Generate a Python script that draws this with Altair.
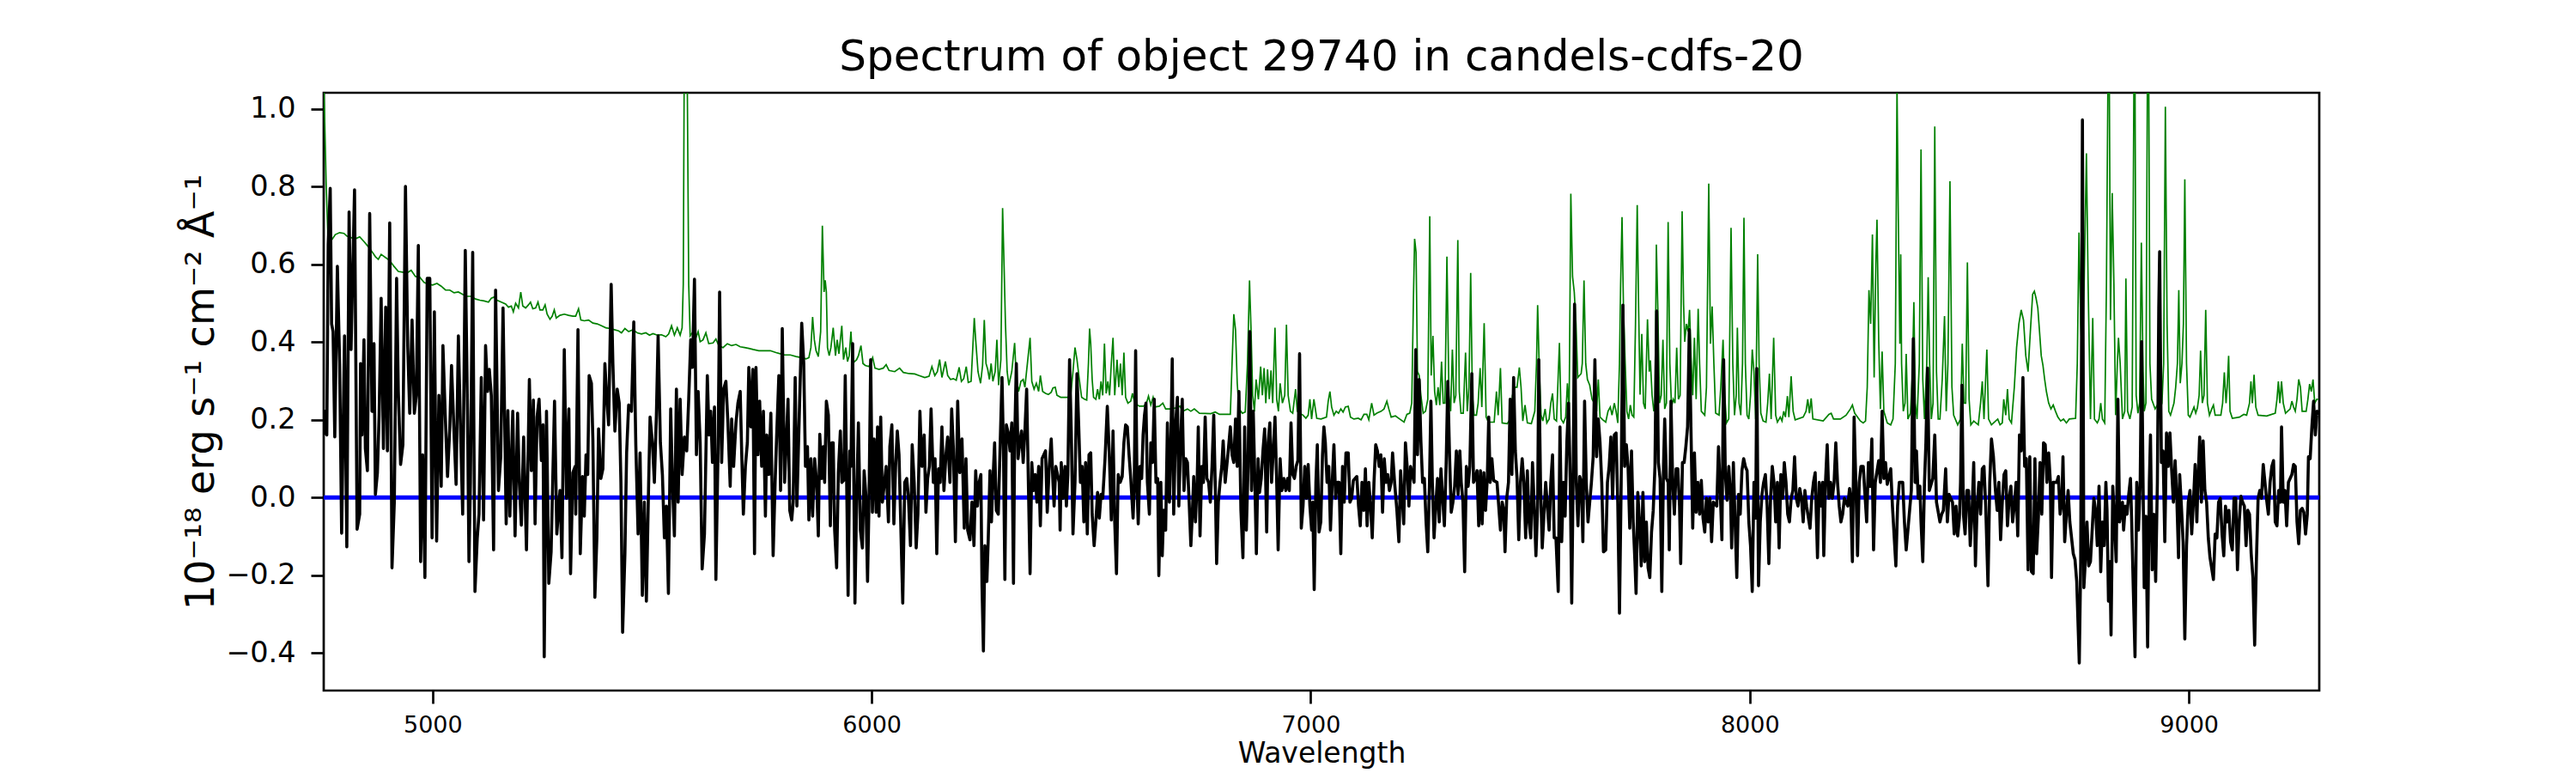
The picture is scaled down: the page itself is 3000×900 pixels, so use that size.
import altair as alt
import pandas as pd

TITLE = "Spectrum of object 29740 in candels-cdfs-20"
X_TITLE = "Wavelength"
Y_TITLE = "10⁻¹⁸ erg s⁻¹ cm⁻² Å⁻¹"
X_TICKS = [5000, 6000, 7000, 8000, 9000]
Y_TICKS = [-0.4, -0.2, 0.0, 0.2, 0.4, 0.6, 0.8, 1.0]
X_DOMAIN = [4752, 9297]
Y_DOMAIN = [-0.497, 1.042]
TOP = 1.06  # peaks that run off the top of the axes

# object flux (black), (wavelength, value)
flux_seg1 = [(4752.4,0.161),(4755.7,0.222),(4759.0,0.161),(4762.2,0.651),(4766.8,0.796),(4770.0,0.447),(4773.3,0.427),(4777.2,0.156),(4783.1,0.595),(4788.3,0.345),(4792.8,-0.092),(4799.4,0.416),(4804.6,-0.127),(4809.8,0.735),(4814.3,0.381),(4822.2,0.792),(4828.0,-0.082),(4833.9,-0.043),(4835.9,0.345),(4839.1,0.161),(4843.7,0.406),(4846.9,0.126),(4851.5,0.069),(4856.7,0.731),(4861.9,0.222),(4866.5,0.396),(4869.7,0.008),(4874.3,0.064),(4878.2,0.212),(4882.8,0.513),(4888.0,0.126),(4893.2,0.490),(4897.1,0.120),(4902.3,0.707),(4907.5,-0.181),(4912.8,-0.012),(4918.0,0.564),(4921.9,0.273),(4927.1,0.085),(4932.3,0.136),(4938.2,0.801),(4943.4,0.386),(4947.9,0.217),(4953.2,0.457),(4958.4,0.217),(4962.9,0.263),(4967.5,0.649),(4972.7,-0.165),(4977.3,0.110),(4982.5,-0.206),(4987.7,0.564),(4993.6,0.564),(4998.8,-0.104),(5004.0,0.478),(5009.2,-0.112),(5014.4,0.263),(5019.6,0.029),(5023.5,0.391),(5028.8,0.212),(5034.0,0.054),(5039.2,0.182),(5043.1,0.340),(5048.3,0.182),(5053.5,0.034),(5058.7,0.416),(5063.9,0.161),(5068.5,-0.043),(5074.4,0.636),(5079.6,0.212),(5082.8,-0.165),(5086.1,0.039),(5091.3,0.631),(5096.5,-0.242),(5101.7,-0.104),(5105.7,-0.043),(5110.9,0.309),(5116.1,-0.058),(5120.6,0.391),(5125.2,0.273),(5129.1,0.330),(5133.7,0.263),(5138.9,-0.135),(5143.5,0.534),(5150.0,0.018),(5155.2,0.105),(5160.4,0.488),(5167.6,-0.068),(5171.5,0.224),(5176.0,-0.048),(5182.6,0.222),(5187.8,-0.099),(5193.6,0.217),(5197.5,0.039),(5202.1,-0.071),(5207.3,0.156),(5213.8,-0.135),(5220.4,0.304),(5224.9,0.069),(5229.5,0.251),(5233.4,-0.068),(5237.9,0.207),(5242.5,0.253),(5247.7,0.095),(5251.6,0.187),(5254.2,-0.410),(5259.4,0.222),(5264.7,-0.221),(5269.9,-0.140),(5277.7,0.248),(5282.9,-0.094),(5290.1,0.018),(5294.6,-0.155),(5299.9,0.381),(5305.1,-0.002),(5310.3,0.228),(5314.2,-0.196),(5319.4,0.064),(5324.6,0.080)]
flux_seg2 = [(5325.9,-0.043),(5331.1,0.432),(5336.3,-0.145),(5341.5,0.054),(5345.5,-0.048),(5349.4,0.110),(5353.3,0.059),(5356.5,0.314),(5361.7,0.294),(5365.0,0.151),(5369.6,-0.257),(5374.1,-0.104),(5378.0,0.177),(5383.2,0.049),(5387.8,0.074),(5392.4,0.345),(5396.3,0.263),(5400.8,0.187),(5406.7,0.549),(5410.6,0.345),(5415.2,0.171),(5420.4,0.279),(5425.0,0.243),(5428.9,0.039),(5432.8,-0.347),(5438.0,-0.145),(5441.9,0.115),(5446.5,0.238),(5453.0,0.222),(5458.2,0.452),(5462.8,0.136),(5468.0,-0.094),(5472.5,0.115),(5477.7,-0.252),(5482.3,-0.012),(5486.9,-0.267),(5492.1,0.039),(5495.3,0.207),(5500.6,0.141),(5505.1,0.039),(5509.7,0.212),(5513.6,0.416),(5518.8,0.141),(5523.4,0.059),(5527.9,-0.104),(5532.5,-0.022),(5537.1,-0.247),(5542.3,0.228),(5546.2,0.039),(5550.7,-0.099),(5555.3,0.279),(5559.2,-0.012),(5563.8,0.253),(5568.3,0.059),(5573.5,0.156),(5578.8,0.120),(5583.3,0.253),(5587.9,0.406),(5591.8,0.335),(5596.4,0.562),(5600.9,0.110),(5604.8,0.273),(5609.4,0.141),(5613.9,-0.184),(5619.2,-0.094),(5625.7,0.314),(5629.6,0.161),(5633.5,0.222),(5637.4,0.090),(5642.0,0.233),(5645.2,-0.211),(5650.4,0.141),(5653.7,0.529),(5658.3,0.090),(5662.8,0.279),(5668.0,0.299),(5672.6,0.192),(5677.8,0.029),(5681.1,0.202),(5685.6,0.080),(5690.9,0.192),(5695.4,0.243),(5700.6,0.273),(5703.9,0.120),(5707.8,-0.043),(5712.4,0.080),(5716.9,0.141),(5720.2,0.335),(5724.7,0.182),(5729.3,0.330),(5733.2,-0.145),(5736.5,0.335),(5741.0,0.110),(5744.9,0.248),(5749.5,0.080),(5753.4,0.222),(5758.0,-0.048),(5761.2,0.161),(5765.8,0.059),(5770.4,0.217),(5775.6,-0.150),(5780.1,0.039),(5784.0,0.171),(5788.6,0.314),(5792.5,0.018),(5796.4,0.435),(5801.6,0.039),(5805.6,0.141),(5809.5,0.253),(5813.4,-0.033),(5817.9,-0.058),(5821.2,-0.012),(5825.8,0.309),(5829.7,-0.022),(5834.2,0.171),(5840.7,0.449),(5845.3,0.345),(5849.2,0.080),(5853.8,0.131),(5857.0,-0.058),(5861.6,0.100),(5865.5,-0.048),(5870.1,0.100),(5874.6,0.039),(5878.5,-0.099),(5881.8,0.163),(5886.4,0.049),(5889.6,0.131),(5892.9,0.039),(5896.8,0.248),(5901.4,0.212),(5905.9,-0.073),(5909.2,0.141)]
flux_seg3 = [(5912.4,0.141),(5915.7,-0.084),(5920.2,-0.181),(5924.1,0.064),(5928.7,0.171),(5932.0,0.039),(5936.5,0.044),(5939.8,0.314),(5943.7,-0.012),(5946.3,-0.252),(5950.2,0.120),(5952.8,0.080),(5956.7,0.396),(5959.3,0.049),(5961.9,-0.272),(5965.8,-0.002),(5969.8,0.192),(5974.3,-0.084),(5978.9,-0.130),(5982.8,0.069),(5986.7,0.008),(5990.6,-0.216),(5993.9,-0.012),(5997.8,0.355),(6001.7,-0.038),(6005.6,0.151),(6010.2,-0.038),(6013.4,0.182),(6016.7,-0.048),(6020.6,0.207),(6024.5,-0.012),(6033.0,0.080),(6038.2,-0.063),(6041.4,0.131),(6046.0,0.187),(6050.6,-0.068),(6054.5,0.080),(6058.4,0.171),(6062.3,0.110),(6070.8,-0.272),(6075.3,0.039),(6079.9,0.049),(6083.8,-0.002),(6088.4,-0.124),(6092.3,0.136),(6096.8,0.039),(6101.4,-0.130),(6105.3,-0.043),(6109.9,0.222),(6114.4,0.080),(6119.6,0.161),(6123.6,-0.038),(6127.5,0.049),(6131.4,0.080),(6135.3,0.228),(6140.5,0.039),(6144.4,0.100),(6148.3,-0.145),(6152.2,0.074),(6156.1,0.039),(6160.0,0.182),(6164.6,0.018),(6169.2,0.110),(6173.1,0.156),(6178.3,0.039),(6182.2,0.228),(6186.1,0.126),(6190.7,-0.114),(6195.9,0.248),(6200.5,0.064),(6205.7,0.151),(6210.9,-0.079),(6214.8,0.100),(6218.7,-0.084),(6223.9,-0.109),(6228.5,-0.012),(6233.0,-0.124),(6236.9,0.069),(6240.9,-0.022),(6244.8,0.039),(6248.7,0.059),(6251.3,-0.227),(6254.5,-0.395),(6257.8,-0.124),(6262.4,-0.216),(6265.6,-0.104),(6269.5,0.069),(6272.8,-0.063),(6276.1,0.039),(6280.0,0.141),(6283.9,-0.033),(6288.4,-0.043),(6293.0,0.151),(6296.9,0.309),(6300.2,0.120),(6303.4,-0.211),(6306.7,0.187),(6311.2,0.166),(6315.2,0.120),(6319.1,0.192),(6323.0,-0.221),(6325.6,0.141),(6329.5,0.345),(6333.4,0.100),(6337.3,0.141),(6341.2,0.171),(6345.1,0.090),(6349.0,0.171),(6353.0,0.279),(6356.9,0.039),(6360.8,-0.196),(6364.7,0.090),(6368.6,0.018),(6372.5,0.059),(6376.4,-0.012),(6380.3,0.080),(6384.2,-0.073),(6388.1,0.100),(6396.0,0.120),(6399.9,-0.038),(6404.4,0.080),(6409.0,0.151),(6412.9,0.039),(6415.5,-0.022),(6419.4,0.080),(6427.2,0.039),(6429.2,-0.084),(6431.8,0.090),(6435.7,-0.002),(6440.3,0.080),(6443.5,-0.022),(6446.8,0.059),(6450.7,0.355),(6454.6,0.171),(6458.5,-0.094),(6463.1,0.039),(6467.6,0.319),(6471.6,0.182),(6475.5,0.039),(6479.4,0.080),(6483.3,-0.063),(6487.2,0.090),(6491.1,-0.094),(6495.0,0.110)]
flux_seg4 = [(6498.9,0.115),(6502.2,-0.043),(6506.7,-0.124),(6510.6,-0.063),(6514.5,0.013),(6518.5,-0.053),(6522.4,0.008),(6526.3,-0.002),(6531.5,0.100),(6536.7,0.235),(6541.3,0.110),(6545.8,-0.058),(6549.7,0.171),(6553.6,-0.063),(6557.6,-0.196),(6561.5,0.059),(6566.0,0.039),(6570.6,0.054),(6574.5,0.141),(6578.4,0.187),(6582.3,0.182),(6586.2,0.110),(6590.1,0.049),(6595.4,-0.053),(6598.0,0.029),(6601.2,0.378),(6604.5,0.018),(6607.1,-0.068),(6611.0,0.080),(6614.9,0.049),(6618.2,0.161),(6621.4,0.212),(6624.7,0.243),(6628.0,0.039),(6632.5,-0.043),(6635.8,0.141),(6639.7,0.090),(6643.6,0.253),(6647.5,0.039),(6651.4,0.049),(6654.0,-0.201),(6658.6,0.039),(6661.8,-0.150),(6665.1,-0.033),(6669.6,-0.084),(6673.6,0.192),(6678.1,-0.012),(6681.4,0.141),(6684.6,0.357),(6687.9,-0.043),(6692.5,0.192),(6696.4,0.258),(6699.6,-0.022),(6703.5,0.141),(6707.4,0.253),(6711.4,0.018),(6715.3,0.100),(6719.2,0.090),(6723.1,-0.012),(6727.0,-0.124),(6730.3,-0.043),(6733.5,0.054),(6737.4,-0.063),(6741.3,0.039),(6743.9,0.182),(6747.9,-0.099),(6751.8,0.080),(6755.7,0.039),(6759.6,0.207),(6763.5,0.049),(6767.4,0.039),(6771.3,-0.012),(6775.2,0.080),(6779.1,0.212),(6783.0,0.008),(6785.7,-0.170),(6789.6,-0.012),(6793.5,0.039),(6797.4,0.080),(6800.6,0.146),(6805.2,0.039),(6813.0,0.131),(6816.9,0.182),(6820.8,0.110),(6824.8,0.090),(6828.7,0.202),(6832.6,0.080),(6836.5,0.273),(6841.0,-0.033),(6845.6,-0.155),(6849.5,0.182),(6853.4,-0.084),(6857.3,0.080),(6861.2,0.427),(6865.2,0.018),(6869.1,0.222),(6873.0,0.029),(6876.2,-0.145),(6880.1,0.100),(6883.4,0.013),(6887.3,0.049),(6891.2,0.120),(6895.1,0.177),(6899.7,-0.089),(6903.0,0.141),(6906.9,0.192),(6910.8,0.039),(6914.7,0.120),(6918.6,0.207),(6922.5,0.039),(6925.8,-0.135),(6930.3,0.100),(6934.2,0.018),(6938.8,0.049),(6943.4,0.018),(6947.3,0.049),(6951.2,0.018),(6955.1,0.192),(6959.0,0.059),(6962.9,0.049),(6966.8,0.080),(6970.7,0.095),(6974.6,0.370),(6978.5,-0.079),(6982.5,-0.022),(6986.4,0.080),(6990.3,-0.002),(6994.2,0.085),(6998.1,-0.022),(7002.0,-0.084),(7004.6,-0.012),(7007.9,-0.237),(7011.8,0.039),(7015.0,0.136),(7019.0,-0.089),(7022.9,-0.063),(7026.8,0.110),(7030.0,0.182),(7033.3,0.141),(7037.2,0.039),(7041.1,0.080),(7045.0,-0.084),(7048.9,0.039),(7052.8,0.136),(7056.8,-0.002),(7060.7,0.039),(7064.6,0.039),(7068.5,-0.145),(7072.4,0.080),(7076.3,-0.012),(7080.2,0.115)]
flux_seg5 = [(7085.4,0.115),(7089.3,-0.012),(7093.2,-0.002),(7097.1,0.044),(7105.0,0.054),(7108.9,-0.022),(7112.8,-0.073),(7116.7,0.039),(7120.6,-0.033),(7124.5,0.074),(7128.4,-0.073),(7132.3,0.039),(7136.2,-0.022),(7140.1,-0.104),(7144.1,0.039),(7148.0,0.136),(7151.9,0.120),(7155.8,0.080),(7159.7,0.110),(7163.6,-0.038),(7167.5,0.100),(7171.4,0.039),(7175.3,0.059),(7179.2,0.018),(7183.2,0.039),(7186.4,0.115),(7191.0,0.039),(7196.2,-0.033),(7200.8,-0.114),(7204.7,0.069),(7211.8,-0.068),(7215.7,0.141),(7219.6,0.080),(7223.6,-0.022),(7227.5,0.080),(7235.3,0.039),(7239.2,0.381),(7243.1,0.110),(7247.0,0.304),(7250.9,0.146),(7254.8,0.039),(7258.8,0.049),(7262.7,-0.063),(7266.6,-0.140),(7270.5,0.039),(7273.7,0.248),(7277.0,0.039),(7280.9,-0.104),(7284.8,-0.022),(7288.7,0.049),(7292.6,-0.063),(7296.6,0.074),(7300.5,-0.002),(7304.4,-0.073),(7308.3,0.080),(7312.2,0.299),(7316.1,0.110),(7320.0,-0.038),(7323.9,-0.012),(7327.8,0.029),(7331.7,0.120),(7335.6,0.008),(7339.6,0.120),(7342.8,0.039),(7346.7,-0.012),(7350.6,-0.191),(7354.5,0.080),(7358.5,0.029),(7362.4,0.080),(7366.9,0.319),(7370.8,0.039),(7374.8,0.049),(7378.7,0.069),(7382.6,-0.073),(7386.5,0.069),(7390.4,-0.068),(7394.3,0.064),(7398.2,-0.033),(7402.1,0.049),(7405.4,0.207),(7408.6,0.039),(7412.6,0.100),(7416.5,0.044),(7424.3,0.039),(7432.1,-0.084),(7436.0,-0.012),(7439.9,-0.033),(7442.5,-0.140),(7446.4,-0.002),(7450.4,0.039),(7454.3,0.253),(7458.2,0.059),(7462.1,0.309),(7466.0,0.120),(7469.9,0.049),(7473.8,-0.109),(7477.7,0.039),(7481.6,0.100),(7485.5,0.039),(7489.5,-0.104),(7493.4,0.069),(7497.3,-0.063),(7501.2,-0.104),(7505.1,0.090),(7509.0,-0.022),(7512.9,-0.150),(7516.8,-0.022),(7519.4,0.355),(7523.3,0.039),(7527.3,-0.130),(7531.2,-0.043),(7535.1,0.039),(7539.0,-0.022),(7542.9,-0.084),(7546.8,0.039),(7550.7,0.110),(7554.6,-0.104),(7558.5,-0.104),(7563.7,-0.242),(7567.7,0.182),(7571.6,-0.114),(7575.5,0.039),(7579.4,-0.048),(7583.3,0.141),(7587.2,0.243),(7591.1,0.039),(7594.4,-0.272),(7597.6,0.039),(7600.9,0.498),(7604.8,0.039),(7608.7,-0.073),(7612.6,0.054),(7616.5,0.039),(7619.8,-0.114),(7623.7,0.248),(7627.6,0.039),(7631.5,-0.063),(7639.3,0.039),(7643.3,0.105),(7647.2,0.355),(7651.1,0.105),(7655.0,0.202),(7658.9,0.141),(7662.8,0.039),(7666.7,-0.140)]
flux_seg6 = [(7671.9,-0.135),(7675.8,0.039),(7679.7,0.080),(7683.6,0.156),(7687.5,-0.002),(7691.5,0.161),(7695.4,0.166),(7699.3,-0.012),(7703.2,-0.298),(7707.1,0.039),(7711.0,0.495),(7714.9,0.080),(7718.8,0.136),(7722.7,0.080),(7726.6,-0.079),(7730.6,0.120),(7734.5,-0.063),(7738.4,-0.165),(7741.0,-0.247),(7744.9,0.013),(7748.8,-0.063),(7752.7,-0.176),(7756.6,0.013),(7760.5,-0.165),(7764.4,-0.063),(7768.4,-0.181),(7772.3,-0.206),(7776.2,-0.089),(7780.1,-0.033),(7784.0,0.080),(7787.9,0.480),(7791.8,0.090),(7795.7,0.049),(7799.6,-0.242),(7803.5,0.080),(7806.2,0.202),(7810.1,0.049),(7814.0,0.039),(7816.6,-0.135),(7820.5,0.248),(7824.4,0.039),(7828.3,-0.043),(7832.2,0.074),(7836.1,0.074),(7840.0,-0.022),(7842.6,-0.170),(7846.6,0.090),(7850.5,0.090),(7854.4,0.131),(7858.3,0.182),(7862.2,0.432),(7866.1,0.171),(7870.0,-0.079),(7873.9,0.115),(7877.8,-0.038),(7881.7,0.039),(7885.7,-0.043),(7889.6,0.044),(7893.5,-0.053),(7897.4,-0.089),(7901.3,-0.002),(7905.2,-0.063),(7909.1,-0.002),(7913.0,-0.114),(7916.9,-0.012),(7924.8,-0.022),(7928.7,0.131),(7932.6,0.018),(7936.5,-0.109),(7940.4,0.355),(7944.3,0.059),(7948.2,-0.007),(7952.1,0.080),(7956.0,0.008),(7958.7,-0.130),(7962.6,0.090),(7966.5,-0.063),(7970.4,-0.206),(7974.3,0.008),(7978.2,-0.043),(7982.1,0.069),(7986.0,0.100),(7989.9,0.080),(7993.8,0.069),(7997.8,-0.063),(8001.7,-0.124),(8005.6,-0.242),(8009.5,0.039),(8013.4,-0.053),(8016.0,0.332),(8019.9,-0.227),(8023.8,-0.063),(8027.7,0.008),(8031.6,0.039),(8035.5,0.059),(8039.5,-0.022),(8043.4,-0.170),(8047.3,-0.002),(8051.2,0.080),(8055.1,0.039),(8059.0,-0.063),(8062.9,0.039),(8066.8,-0.130),(8070.7,0.059),(8074.7,-0.002),(8078.6,0.090),(8082.5,0.039),(8086.4,-0.043),(8090.3,-0.063),(8094.2,-0.002),(8098.1,0.018),(8102.0,0.105),(8105.9,-0.002),(8109.8,-0.022),(8113.8,0.023),(8117.7,-0.002),(8121.6,-0.063),(8125.5,0.018),(8129.4,-0.022),(8137.2,-0.079),(8141.1,-0.002),(8145.0,0.039),(8148.9,0.064),(8154.2,-0.155),(8158.1,0.039),(8162.0,-0.022),(8165.9,0.039),(8168.5,-0.150),(8172.4,0.039),(8176.3,0.136),(8180.2,-0.002),(8184.1,0.039),(8188.0,-0.002),(8192.0,0.039),(8195.9,0.141),(8199.8,0.039),(8203.7,-0.022),(8207.6,-0.063),(8211.5,-0.043),(8215.4,-0.002),(8223.2,-0.022),(8227.2,0.023),(8229.8,-0.002),(8233.7,-0.165),(8237.6,0.207),(8241.5,0.039),(8245.4,-0.150),(8249.3,0.039),(8253.2,0.080)]
flux_seg7 = [(8258.4,0.080),(8262.3,0.008),(8266.2,-0.063),(8270.1,0.090),(8274.0,0.029),(8278.0,0.151),(8281.9,-0.135),(8285.8,0.039),(8293.6,0.095),(8297.5,0.039),(8301.4,0.222),(8305.3,0.049),(8309.2,0.090),(8313.1,0.034),(8321.0,0.074),(8324.9,-0.022),(8332.7,-0.176),(8336.6,-0.022),(8340.5,0.039),(8348.3,0.039),(8352.2,-0.063),(8356.2,-0.135),(8360.1,-0.084),(8364.0,-0.033),(8367.9,0.018),(8372.4,0.409),(8376.4,0.039),(8379.6,0.120),(8383.5,-0.002),(8387.4,0.029),(8390.0,-0.063),(8394.0,-0.165),(8397.9,0.039),(8401.1,0.141),(8405.0,0.333),(8408.9,0.018),(8416.8,0.049),(8421.3,0.161),(8425.2,-0.012),(8433.1,-0.063),(8437.0,-0.043),(8440.9,-0.033),(8446.1,0.074),(8450.0,-0.063),(8453.9,0.008),(8461.7,-0.012),(8465.6,-0.094),(8469.6,-0.022),(8473.5,-0.099),(8477.4,-0.053),(8480.0,0.039),(8483.2,0.289),(8486.5,-0.043),(8490.4,-0.094),(8494.3,0.018),(8498.2,0.018),(8502.1,-0.124),(8506.0,-0.043),(8510.0,0.090),(8513.9,-0.176),(8517.8,-0.022),(8521.7,0.039),(8525.6,-0.043),(8529.5,0.074),(8533.4,0.080),(8537.3,-0.022),(8542.5,-0.227),(8546.5,0.039),(8550.4,0.151),(8554.9,0.105),(8559.5,0.018),(8563.4,-0.033),(8567.3,0.039),(8571.2,-0.109),(8575.1,-0.012),(8579.0,0.059),(8583.0,0.069),(8586.9,-0.073),(8590.8,-0.002),(8594.7,0.029),(8598.6,-0.063),(8602.5,-0.022),(8606.4,0.039),(8610.3,-0.099),(8614.2,0.161),(8618.1,0.120),(8622.1,0.309),(8626.0,0.080),(8629.9,0.100),(8633.8,-0.186),(8637.7,0.105),(8641.6,-0.191),(8645.5,-0.196),(8649.4,0.100),(8653.3,-0.145),(8657.2,-0.053),(8661.1,0.090),(8665.1,-0.043),(8669.0,0.141),(8672.9,0.136),(8676.8,0.039),(8680.7,0.115),(8684.6,0.039),(8687.2,-0.206),(8691.1,0.039),(8699.0,0.039),(8702.9,0.054),(8706.8,-0.043),(8710.7,-0.012),(8713.3,0.105),(8717.2,-0.114),(8721.1,-0.043),(8725.0,0.018),(8728.9,-0.063),(8736.8,-0.145),(8740.7,-0.160),(8744.6,-0.216),(8750.4,-0.426),(8753.7,-0.165),(8757.6,0.972),(8760.9,-0.232),(8764.1,-0.165),(8768.0,-0.063),(8771.9,-0.176),(8775.9,-0.165),(8779.8,-0.084),(8783.7,-0.002),(8787.6,-0.033),(8791.5,-0.124),(8795.4,0.029),(8799.3,-0.191),(8803.2,-0.063),(8807.1,-0.124),(8811.0,0.039),(8813.6,-0.033),(8816.9,-0.267),(8820.2,-0.165),(8822.8,-0.354),(8826.7,0.029),(8830.6,-0.063),(8834.5,-0.165),(8838.4,0.253),(8842.3,-0.063)]
flux_seg8 = [(8848.8,-0.012),(8851.4,-0.084),(8855.3,-0.022),(8859.2,-0.043),(8863.1,0.008),(8867.0,0.049),(8869.6,-0.053),(8873.5,-0.237),(8877.4,-0.410),(8881.3,0.039),(8885.3,-0.084),(8889.2,0.039),(8892.4,0.401),(8895.7,0.039),(8898.3,-0.232),(8902.2,-0.048),(8906.1,-0.385),(8910.0,0.039),(8912.6,0.161),(8916.5,-0.186),(8920.4,-0.043),(8924.4,-0.216),(8928.3,0.039),(8931.5,0.488),(8933.5,0.633),(8937.4,0.090),(8941.3,0.120),(8945.2,-0.114),(8949.1,0.166),(8953.0,0.080),(8956.9,0.166),(8960.9,0.069),(8964.8,-0.012),(8968.7,0.095),(8972.6,-0.002),(8976.5,-0.155),(8979.1,0.059),(8983.0,-0.022),(8986.9,-0.114),(8990.8,-0.364),(8994.7,-0.124),(8998.7,-0.012),(9002.6,0.018),(9006.5,-0.094),(9010.4,-0.012),(9014.3,0.085),(9018.2,-0.063),(9020.8,0.039),(9024.7,0.156),(9028.6,-0.012),(9032.5,0.146),(9036.5,0.018),(9040.4,-0.012),(9044.3,-0.104),(9048.2,-0.155),(9056.0,-0.211),(9059.9,-0.094),(9063.8,-0.104),(9067.7,-0.012),(9071.6,-0.002),(9075.6,-0.094),(9079.5,-0.150),(9083.4,-0.022),(9087.3,-0.063),(9091.2,-0.033),(9095.1,-0.114),(9099.0,-0.135),(9102.9,-0.002),(9106.8,-0.002),(9110.7,-0.186),(9114.7,-0.063),(9118.6,0.003),(9122.5,-0.012),(9126.4,-0.022),(9130.3,-0.124),(9134.2,-0.033),(9138.1,-0.043),(9142.0,-0.145),(9145.9,-0.206),(9149.9,-0.380),(9153.8,-0.165),(9157.7,-0.002),(9161.6,0.018),(9165.5,-0.002),(9169.4,0.085),(9173.3,0.039),(9177.2,-0.007),(9181.1,-0.043),(9185.0,0.039),(9189.0,0.080),(9192.9,0.095),(9196.8,-0.063),(9200.7,-0.073),(9204.6,0.018),(9208.5,-0.012),(9211.1,0.182),(9215.0,-0.012),(9218.9,0.018),(9222.8,-0.073),(9226.8,0.039),(9234.6,0.059),(9238.5,0.085),(9242.4,0.080),(9246.3,-0.063),(9250.2,-0.119),(9254.1,-0.033),(9258.0,-0.028),(9261.9,-0.038),(9265.8,-0.094),(9269.8,-0.043),(9272.4,0.105),(9276.3,0.100),(9280.2,0.182),(9284.1,0.248),(9288.0,0.161),(9291.9,0.222),(9294.5,0.212)]

# error / sky spectrum (green), (wavelength, value); TOP marks peaks that leave the axes
sky_seg1 = [(4752.4,TOP),(4757.6,0.804),(4762.2,0.651),(4765.5,0.656),(4772.0,0.666),(4778.5,0.677),(4788.3,0.682),(4798.1,0.680),(4804.6,0.673),(4814.3,0.669),(4824.1,0.666),(4833.9,0.671),(4843.7,0.659),(4853.4,0.646),(4863.2,0.631),(4869.7,0.620),(4876.3,0.613),(4882.8,0.626),(4892.5,0.618),(4902.3,0.610),(4912.1,0.595),(4921.9,0.582),(4931.6,0.580),(4941.4,0.578),(4951.2,0.585),(4961.0,0.569),(4970.8,0.567),(4980.5,0.554),(4990.3,0.549),(5000.1,0.547),(5009.9,0.551),(5019.6,0.544),(5029.4,0.534),(5039.2,0.534),(5049.0,0.527),(5058.7,0.529),(5068.5,0.523),(5078.3,0.518),(5088.1,0.518),(5097.8,0.511),(5107.6,0.508),(5117.4,0.506),(5127.2,0.503),(5133.7,0.513),(5140.2,0.516),(5146.7,0.508),(5156.5,0.503),(5166.3,0.498),(5172.8,0.490),(5179.3,0.493),(5183.9,0.478),(5189.1,0.500),(5195.6,0.488),(5200.8,0.529),(5205.4,0.493),(5211.9,0.488),(5218.4,0.496),(5223.0,0.503),(5228.2,0.486),(5234.7,0.488),(5240.0,0.503),(5244.5,0.483),(5251.0,0.483),(5256.2,0.496),(5260.8,0.472),(5267.3,0.459),(5272.5,0.467),(5277.1,0.483),(5281.6,0.462),(5290.1,0.469),(5299.9,0.472),(5309.6,0.469),(5319.4,0.467)]
sky_seg2 = [(5325.9,0.467),(5332.4,0.486),(5337.6,0.457),(5345.5,0.455),(5355.2,0.457),(5365.0,0.449),(5374.8,0.447),(5384.6,0.442),(5394.3,0.437),(5404.1,0.435),(5413.9,0.432),(5423.7,0.429),(5430.2,0.424),(5438.0,0.435),(5446.5,0.427),(5456.2,0.432),(5466.0,0.424),(5475.8,0.421),(5485.6,0.424),(5494.0,0.418),(5501.9,0.422),(5511.6,0.418),(5521.4,0.419),(5531.2,0.414),(5537.7,0.421),(5544.2,0.442),(5550.7,0.418),(5557.3,0.437),(5563.8,0.418),(5568.3,0.437),(5570.9,0.549),(5572.9,TOP),(5580.1,TOP),(5583.3,0.549),(5586.6,0.416),(5593.1,0.427),(5599.6,0.411),(5604.8,0.427),(5609.4,0.401),(5615.9,0.406),(5622.4,0.424),(5628.9,0.396),(5638.7,0.398),(5645.2,0.408),(5651.8,0.391),(5661.5,0.386),(5671.3,0.396),(5681.1,0.391),(5690.9,0.394),(5700.6,0.388),(5710.4,0.386),(5720.2,0.384),(5730.0,0.381),(5743.0,0.378),(5756.0,0.378),(5769.1,0.378),(5782.1,0.373),(5791.9,0.370),(5801.6,0.367),(5814.7,0.367),(5827.7,0.363),(5840.7,0.360),(5850.5,0.357),(5857.0,0.360),(5861.6,0.386),(5865.5,0.465),(5869.4,0.406),(5873.3,0.378),(5878.5,0.363),(5883.8,0.427),(5887.7,0.700),(5891.6,0.529),(5894.2,0.559),(5896.8,0.529),(5899.4,0.386),(5903.3,0.365),(5907.2,0.386)]
sky_seg3 = [(5912.4,0.437),(5917.6,0.365),(5921.5,0.406),(5925.4,0.370),(5932.0,0.442),(5935.9,0.355),(5941.1,0.386),(5945.0,0.350),(5948.9,0.365),(5952.8,0.427),(5956.7,0.345),(5965.8,0.355),(5969.8,0.365),(5975.6,0.391),(5980.2,0.345),(5985.4,0.340),(5993.9,0.337),(6002.3,0.360),(6007.5,0.333),(6016.7,0.330),(6026.4,0.333),(6033.0,0.342),(6039.5,0.327),(6052.5,0.324),(6063.6,0.333),(6072.1,0.322),(6085.1,0.319),(6098.1,0.318),(6107.9,0.314),(6121.0,0.309),(6130.7,0.312),(6137.2,0.337),(6143.8,0.314),(6149.6,0.324),(6154.8,0.355),(6160.0,0.309),(6167.9,0.350),(6173.1,0.314),(6179.6,0.304),(6186.1,0.306),(6192.6,0.302),(6199.2,0.335),(6204.4,0.299),(6209.6,0.306),(6215.4,0.337),(6220.0,0.296),(6226.5,0.299),(6233.7,0.462),(6236.9,0.406),(6242.2,0.324),(6248.0,0.294),(6252.6,0.340),(6256.5,0.457),(6260.4,0.345),(6264.3,0.330),(6268.2,0.304),(6272.1,0.345),(6276.1,0.299),(6281.3,0.324),(6285.2,0.406),(6289.1,0.289),(6294.3,0.355),(6298.2,0.745),(6301.5,0.600),(6304.7,0.447),(6308.6,0.324),(6312.5,0.289),(6319.1,0.324),(6325.6,0.398),(6329.5,0.304),(6334.7,0.273),(6339.9,0.299),(6345.1,0.304),(6349.0,0.284),(6355.6,0.355),(6360.8,0.411),(6364.7,0.299),(6369.9,0.279),(6375.1,0.294),(6380.3,0.273),(6384.2,0.314),(6389.4,0.273),(6396.0,0.268),(6402.5,0.265),(6409.0,0.271),(6412.9,0.282),(6418.1,0.284),(6422.0,0.263),(6430.5,0.258),(6446.8,0.258),(6453.3,0.263),(6458.5,0.324),(6463.1,0.386),(6467.6,0.355),(6472.9,0.304),(6478.1,0.258),(6484.6,0.253),(6489.8,0.251),(6493.7,0.345),(6496.3,0.435),(6498.9,0.396)]
sky_seg4 = [(6502.2,0.304),(6505.4,0.258),(6510.6,0.253),(6514.5,0.279),(6518.5,0.253),(6522.4,0.299),(6526.3,0.263),(6530.2,0.396),(6534.1,0.268),(6538.0,0.299),(6541.9,0.263),(6545.8,0.345),(6549.7,0.411),(6553.6,0.263),(6558.9,0.355),(6562.8,0.284),(6566.7,0.345),(6570.6,0.263),(6574.5,0.373),(6578.4,0.258),(6583.6,0.243),(6590.1,0.248),(6594.0,0.268),(6599.3,0.243),(6609.7,0.235),(6619.5,0.235),(6626.0,0.243),(6630.5,0.261),(6635.8,0.238),(6641.0,0.258),(6646.2,0.233),(6655.3,0.235),(6663.1,0.243),(6669.6,0.228),(6681.4,0.228),(6694.4,0.231),(6702.2,0.235),(6708.7,0.222),(6719.2,0.228),(6727.0,0.222),(6734.8,0.228),(6746.5,0.217),(6772.6,0.216),(6782.4,0.220),(6792.2,0.214),(6816.9,0.214),(6820.8,0.345),(6824.8,0.472),(6828.7,0.432),(6832.6,0.294),(6836.5,0.228),(6844.3,0.217),(6850.8,0.220),(6856.0,0.345),(6860.6,0.559),(6863.9,0.437),(6867.8,0.263),(6871.7,0.222),(6875.6,0.304),(6880.8,0.253),(6886.0,0.337),(6889.9,0.263),(6893.8,0.333),(6897.7,0.243),(6901.7,0.330),(6905.6,0.253),(6909.5,0.327),(6913.4,0.243),(6918.6,0.437),(6922.5,0.253),(6926.4,0.222),(6930.3,0.294),(6935.5,0.243),(6940.8,0.263),(6944.7,0.445),(6948.6,0.263),(6953.8,0.222),(6959.0,0.217),(6965.5,0.279),(6969.4,0.222),(6974.6,0.217),(6982.5,0.212),(6989.0,0.204),(6994.2,0.212),(6998.1,0.253),(7002.0,0.202),(7007.2,0.253),(7013.7,0.204),(7023.5,0.202),(7035.9,0.207),(7039.8,0.248),(7043.7,0.273),(7047.6,0.233),(7052.8,0.212),(7058.1,0.222),(7063.3,0.217),(7068.5,0.228),(7073.7,0.220),(7078.9,0.233)]
sky_seg5 = [(7085.4,0.235),(7090.6,0.207),(7098.4,0.202),(7108.2,0.204),(7114.7,0.200),(7121.2,0.214),(7127.8,0.214),(7132.3,0.200),(7138.8,0.243),(7144.1,0.212),(7150.6,0.217),(7160.3,0.222),(7166.9,0.228),(7173.4,0.248),(7177.9,0.228),(7183.2,0.207),(7192.9,0.210),(7202.7,0.202),(7212.5,0.194),(7219.0,0.214),(7225.5,0.217),(7230.1,0.243),(7234.0,0.518),(7236.6,0.666),(7239.9,0.631),(7243.1,0.324),(7247.0,0.314),(7250.9,0.263),(7256.1,0.217),(7261.4,0.222),(7266.6,0.253),(7271.1,0.724),(7274.4,0.314),(7278.3,0.416),(7282.2,0.273),(7286.1,0.238),(7290.0,0.284),(7293.9,0.238),(7297.9,0.350),(7301.8,0.243),(7305.7,0.243),(7310.2,0.620),(7314.8,0.263),(7318.7,0.222),(7322.6,0.381),(7326.5,0.243),(7330.4,0.263),(7335.0,0.663),(7338.3,0.273),(7342.2,0.217),(7347.4,0.217),(7352.6,0.373),(7356.5,0.222),(7360.4,0.284),(7364.3,0.578),(7368.2,0.263),(7372.1,0.212),(7377.4,0.212),(7381.3,0.243),(7385.8,0.333),(7389.7,0.233),(7395.0,0.449),(7399.5,0.207),(7404.7,0.194),(7417.8,0.194),(7423.0,0.273),(7426.9,0.212),(7432.1,0.333),(7436.0,0.192),(7447.7,0.190),(7454.3,0.202),(7459.5,0.263),(7464.7,0.284),(7469.9,0.284),(7475.1,0.335),(7479.0,0.284),(7483.0,0.197),(7488.1,0.238),(7493.4,0.192),(7502.5,0.190),(7510.3,0.222),(7514.2,0.345),(7516.8,0.495),(7520.7,0.324),(7524.6,0.212),(7528.6,0.197),(7533.8,0.228),(7537.7,0.192),(7542.9,0.202),(7546.8,0.243),(7550.7,0.268),(7554.6,0.202),(7559.8,0.197),(7566.4,0.398),(7570.3,0.202),(7575.5,0.192),(7580.7,0.207),(7584.6,0.294),(7588.5,0.222),(7592.4,0.782),(7596.3,0.569),(7600.2,0.529),(7604.2,0.447),(7608.1,0.309),(7615.9,0.319),(7618.5,0.345),(7622.4,0.559),(7626.3,0.345),(7630.2,0.304),(7635.4,0.289),(7640.7,0.253),(7645.9,0.243),(7651.1,0.222),(7655.0,0.304),(7658.9,0.207),(7665.4,0.200)]
sky_seg6 = [(7671.9,0.194),(7677.1,0.222),(7682.3,0.233),(7686.2,0.212),(7691.5,0.243),(7695.4,0.222),(7699.3,0.192),(7703.2,0.345),(7705.8,0.549),(7709.0,0.722),(7712.3,0.488),(7716.2,0.345),(7720.1,0.222),(7724.0,0.202),(7727.9,0.238),(7731.9,0.212),(7735.8,0.207),(7739.7,0.447),(7743.6,0.753),(7746.8,0.488),(7750.1,0.265),(7754.0,0.421),(7757.9,0.243),(7761.8,0.228),(7767.0,0.459),(7771.0,0.324),(7773.6,0.353),(7777.5,0.263),(7781.4,0.222),(7784.0,0.243),(7787.2,0.651),(7790.5,0.488),(7794.4,0.243),(7798.3,0.263),(7802.2,0.406),(7806.2,0.228),(7810.1,0.243),(7814.0,0.709),(7817.9,0.345),(7821.8,0.233),(7825.7,0.253),(7829.6,0.243),(7833.5,0.386),(7837.4,0.253),(7841.3,0.263),(7845.9,0.737),(7849.2,0.498),(7851.8,0.401),(7855.7,0.447),(7859.6,0.427),(7862.8,0.483),(7866.1,0.365),(7870.0,0.263),(7873.9,0.411),(7877.8,0.253),(7882.4,0.486),(7885.7,0.345),(7889.6,0.222),(7897.4,0.212),(7901.3,0.284),(7906.5,0.808),(7910.4,0.396),(7914.3,0.492),(7918.2,0.345),(7922.2,0.217),(7930.0,0.212),(7933.9,0.284),(7939.1,0.406),(7943.0,0.263),(7946.9,0.192),(7952.1,0.202),(7957.3,0.694),(7961.3,0.345),(7965.2,0.212),(7969.1,0.263),(7971.7,0.437),(7975.6,0.243),(7979.5,0.212),(7983.4,0.345),(7986.7,0.720),(7989.9,0.345),(7993.8,0.212),(7997.8,0.202),(8001.7,0.263),(8005.6,0.381),(8009.5,0.324),(8013.4,0.202),(8017.9,0.626),(8021.2,0.345),(8025.1,0.217),(8030.3,0.197),(8036.9,0.194),(8040.8,0.243),(8044.7,0.319),(8048.6,0.202),(8054.4,0.411),(8059.0,0.212),(8062.9,0.194),(8069.4,0.207),(8073.4,0.197),(8077.3,0.222),(8081.2,0.207),(8085.7,0.261),(8089.0,0.207),(8094.2,0.312),(8098.8,0.222),(8103.3,0.200),(8121.6,0.207),(8128.1,0.222),(8132.0,0.253),(8135.9,0.217),(8139.8,0.255),(8143.7,0.202),(8167.2,0.197),(8180.2,0.214),(8185.4,0.217),(8190.7,0.202),(8206.3,0.202),(8219.3,0.212),(8229.1,0.228),(8233.7,0.238),(8238.9,0.217),(8251.9,0.197)]
sky_seg7 = [(8258.4,0.192),(8263.6,0.197),(8267.5,0.284),(8271.4,0.534),(8275.3,0.447),(8279.3,0.677),(8283.2,0.309),(8287.1,0.600),(8289.7,0.715),(8293.6,0.406),(8297.5,0.228),(8301.4,0.376),(8305.3,0.222),(8313.1,0.192),(8321.0,0.187),(8326.2,0.202),(8331.4,0.345),(8335.3,TOP),(8337.9,0.753),(8341.8,0.396),(8343.8,0.626),(8345.7,0.345),(8349.6,0.222),(8353.5,0.243),(8356.2,0.370),(8360.1,0.202),(8365.9,0.217),(8370.5,0.324),(8373.7,0.503),(8377.0,0.243),(8380.9,0.202),(8386.1,0.345),(8390.0,0.896),(8394.0,0.304),(8397.9,0.202),(8403.1,0.345),(8406.3,0.567),(8409.6,0.345),(8413.5,0.202),(8417.4,0.243),(8421.3,0.955),(8425.2,0.324),(8429.1,0.202),(8433.1,0.202),(8438.3,0.304),(8443.5,0.467),(8447.4,0.222),(8451.3,0.345),(8455.9,0.814),(8460.4,0.284),(8464.3,0.212),(8473.5,0.187),(8480.0,0.202),(8483.9,0.396),(8487.8,0.243),(8491.7,0.243),(8495.6,0.605),(8499.5,0.253),(8503.4,0.187),(8510.0,0.197),(8520.4,0.187),(8525.6,0.243),(8529.5,0.299),(8533.4,0.202),(8539.9,0.381),(8543.8,0.202),(8550.4,0.187),(8564.7,0.202),(8569.9,0.187),(8575.1,0.192),(8578.4,0.253),(8583.0,0.212),(8586.9,0.279),(8590.8,0.202),(8596.0,0.192),(8602.5,0.284),(8607.7,0.386),(8612.9,0.447),(8618.1,0.483),(8623.4,0.457),(8628.6,0.365),(8633.8,0.324),(8639.0,0.427),(8644.2,0.523),(8648.1,0.531),(8652.0,0.513),(8656.0,0.488),(8659.9,0.427),(8663.8,0.365),(8667.7,0.340),(8671.6,0.304),(8675.5,0.273),(8680.7,0.243),(8685.9,0.228),(8691.1,0.238),(8696.3,0.222),(8701.6,0.207),(8708.1,0.197),(8714.6,0.202),(8721.1,0.192),(8727.6,0.202),(8742.0,0.204),(8745.9,0.345),(8749.8,0.682),(8753.7,0.447),(8757.6,0.345),(8761.5,0.549),(8766.7,0.886),(8770.6,0.549),(8775.9,0.202),(8781.1,0.462),(8785.0,0.202),(8791.5,0.192),(8795.4,0.202),(8799.3,0.243),(8803.2,0.202),(8808.4,0.192),(8812.3,0.549),(8815.6,TOP),(8818.9,TOP),(8821.5,0.457),(8825.4,0.784),(8829.3,0.549),(8833.2,0.212),(8837.1,0.345),(8839.7,0.411),(8843.6,0.345)]
sky_seg8 = [(8848.8,0.202),(8854.0,0.222),(8856.6,0.564),(8860.5,0.222),(8865.7,0.202),(8870.9,0.233),(8874.8,TOP),(8877.4,TOP),(8880.0,0.263),(8884.0,0.217),(8887.9,0.243),(8891.8,0.656),(8895.7,0.324),(8898.3,0.222),(8902.2,0.243),(8905.5,TOP),(8908.7,TOP),(8911.3,0.345),(8915.2,0.253),(8923.1,0.228),(8930.9,0.243),(8934.8,0.228),(8938.7,0.243),(8942.6,0.345),(8946.5,1.006),(8950.4,0.447),(8954.3,0.222),(8958.3,0.212),(8966.1,0.243),(8970.0,0.284),(8973.9,0.345),(8977.1,0.534),(8980.4,0.294),(8984.3,0.345),(8987.6,0.447),(8990.8,0.819),(8994.7,0.345),(8998.7,0.212),(9002.6,0.207),(9011.7,0.233),(9015.6,0.217),(9019.5,0.231),(9023.4,0.263),(9026.7,0.378),(9030.6,0.243),(9034.5,0.263),(9038.4,0.483),(9042.3,0.243),(9046.9,0.212),(9052.1,0.228),(9056.0,0.238),(9059.9,0.212),(9072.9,0.212),(9076.9,0.243),(9080.8,0.322),(9084.7,0.243),(9087.3,0.284),(9090.6,0.365),(9093.8,0.222),(9099.0,0.204),(9115.3,0.207),(9125.1,0.214),(9131.6,0.212),(9138.1,0.243),(9141.4,0.299),(9144.6,0.243),(9148.5,0.316),(9152.5,0.233),(9157.7,0.212),(9177.2,0.210),(9196.8,0.217),(9200.7,0.253),(9203.9,0.299),(9207.2,0.243),(9211.1,0.299),(9215.0,0.243),(9220.2,0.217),(9230.7,0.228),(9234.6,0.248),(9238.5,0.233),(9242.4,0.222),(9246.3,0.253),(9250.2,0.304),(9254.1,0.284),(9258.0,0.222),(9267.2,0.222),(9271.1,0.253),(9275.0,0.292),(9278.9,0.273),(9282.8,0.304),(9286.7,0.243),(9291.3,0.253),(9294.5,0.253)]

flux_pts = flux_seg1 + flux_seg2 + flux_seg3 + flux_seg4 + flux_seg5 + flux_seg6 + flux_seg7 + flux_seg8
sky_pts = sky_seg1 + sky_seg2 + sky_seg3 + sky_seg4 + sky_seg5 + sky_seg6 + sky_seg7 + sky_seg8

flux_df = pd.DataFrame(flux_pts, columns=["wave", "value"])
flux_df["order"] = range(len(flux_df))
sky_df = pd.DataFrame(sky_pts, columns=["wave", "value"])
sky_df["order"] = range(len(sky_df))

FONT = "DejaVu Sans"
xs = alt.Scale(domain=X_DOMAIN, nice=False, zero=False)
ys = alt.Scale(domain=Y_DOMAIN, nice=False, zero=False)

x_axis = alt.Axis(
    title=X_TITLE, values=X_TICKS, format="d", grid=False, domain=False,
    ticks=True, tickColor="black", tickWidth=2.7, tickSize=15,
    labelFont=FONT, labelFontSize=27, labelColor="black", labelPadding=12,
    titleFont=FONT, titleFontSize=33, titleFontWeight="normal", titleColor="black",
    titleBaseline="alphabetic", titleY=83,
)
y_axis = alt.Axis(
    title=Y_TITLE, values=Y_TICKS, format=".1f", grid=False, domain=False,
    ticks=True, tickColor="black", tickWidth=2.7, tickSize=15,
    labelFont=FONT, labelFontSize=33.5, labelColor="black", labelPadding=18,
    titleFont=FONT, titleFontSize=46, titleFontWeight="normal", titleColor="black",
    titleBaseline="alphabetic", titleX=-129, titleY=348, titleAngle=270,
)

sky = alt.Chart(sky_df).mark_line(color="#008000", strokeWidth=1.7, clip=True).encode(
    x=alt.X("wave:Q", scale=xs, axis=x_axis),
    y=alt.Y("value:Q", scale=ys, axis=y_axis),
    order="order:Q",
)
zero = alt.Chart(sky_df.head(1)).mark_rule(color="#0000ff", strokeWidth=5).encode(
    y=alt.Y(datum=0, scale=ys),
)
flux = alt.Chart(flux_df).mark_line(color="#000000", strokeWidth=3.6, clip=True, strokeJoin="round").encode(
    x=alt.X("wave:Q", scale=xs),
    y=alt.Y("value:Q", scale=ys),
    order="order:Q",
)

chart = alt.layer(sky, zero, flux).properties(
    width=2324,
    height=696,
    background="white",
    padding={"left": 369, "top": 100, "right": 291, "bottom": 92},
    autosize=alt.AutoSizeParams(type="none"),
    title=alt.TitleParams(
        text=TITLE, font=FONT, fontSize=50, fontWeight="normal", color="black",
        anchor="middle", frame="group", baseline="alphabetic", offset=24, dy=48,
    ),
).configure_view(
    stroke="black", strokeWidth=2.7, fill="white",
)

chart.save("out.html", embed_options={"renderer": "svg", "actions": False})
